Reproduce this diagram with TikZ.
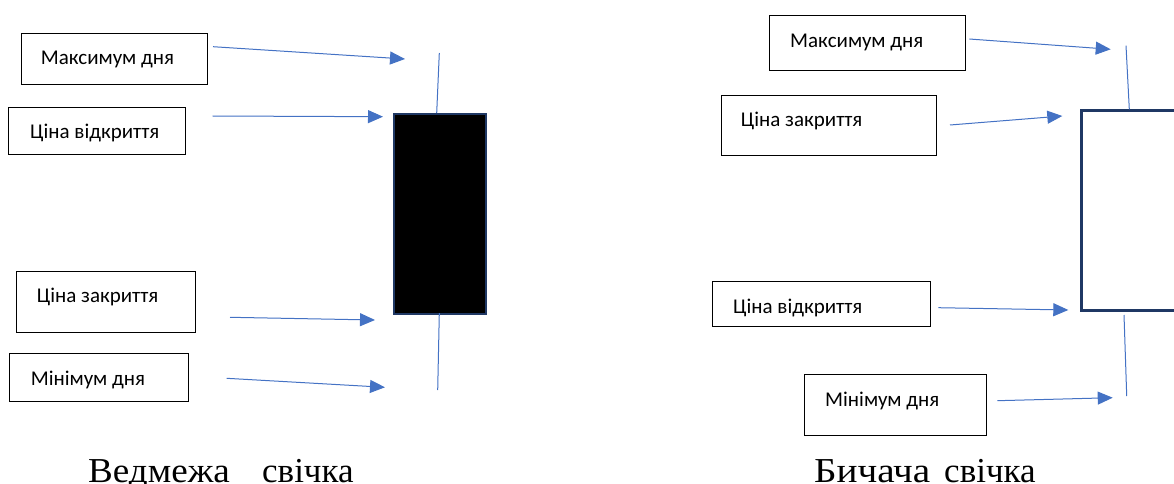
\documentclass[tikz,border=0pt]{standalone}
\usepackage{fontspec}
\setmainfont{Liberation Serif}
\newfontfamily\lblfont{Carlito}
\usetikzlibrary{arrows.meta}
\definecolor{arrowblue}{HTML}{4472C4}
\definecolor{bodynavy}{HTML}{1F3864}

\begin{document}
\begin{tikzpicture}[x=1pt,y=-1pt,
  labelbox/.style={draw=black, line width=1.1pt, inner sep=0pt, anchor=north west},
  labeltext/.style={anchor=base west, inner sep=0pt, font=\lblfont\fontsize{21}{25}\selectfont},
  pointer/.style={draw=arrowblue, line width=1pt, -{Triangle[length=15pt,width=13pt]}},
  wick/.style={draw=arrowblue, line width=1pt},
  captiontext/.style={anchor=base west, inner sep=0pt, font=\fontsize{35}{40}\selectfont}]
\useasboundingbox (0,0) rectangle (1174,484);

% ---------- bearish candle ----------
\node[anchor=north west, draw=bodynavy, fill=black, line width=1.6pt,
      minimum width=92pt, minimum height=200pt, inner sep=0pt] (bearbody) at (393,113) {};
\coordinate (bearhightop) at (439.3,53);
\coordinate (bearhighbot) at (436.7,113);
\coordinate (bearlowtop) at (439.3,313);
\coordinate (bearlowbot) at (437.7,390);
\draw[wick] (bearhightop) -- (bearhighbot);
\draw[wick] (bearlowtop) -- (bearlowbot);

\node[labelbox, minimum width=186pt, minimum height=51pt] (bearmaxbox) at (21,33) {};
\node[labeltext] (bearmax) at (40.7,64.3) {Максимум дня};
\node[labelbox, minimum width=177pt, minimum height=47pt] (bearopenbox) at (8,107) {};
\node[labeltext] (bearopen) at (30,138.5) {Ціна відкриття};
\node[labelbox, minimum width=179pt, minimum height=61pt] (bearclosebox) at (16,271) {};
\node[labeltext] (bearclose) at (36.7,302.7) {Ціна закриття};
\node[labelbox, minimum width=179pt, minimum height=48pt] (bearminbox) at (9,353) {};
\node[labeltext] (bearmin) at (30.7,385.7) {Мінімум дня};

\coordinate (ba1s) at (213,46.7);   \coordinate (ba1e) at (405,59);
\coordinate (ba2s) at (212.7,116);  \coordinate (ba2e) at (383,116.7);
\coordinate (ba3s) at (230,317.3);  \coordinate (ba3e) at (375,320);
\coordinate (ba4s) at (226.7,378.3);\coordinate (ba4e) at (385,387.3);
\draw[pointer] (ba1s) -- (ba1e);
\draw[pointer] (ba2s) -- (ba2e);
\draw[pointer] (ba3s) -- (ba3e);
\draw[pointer] (ba4s) -- (ba4e);

\node[captiontext] (bearcaption) at (88,482)
  {\makebox[174pt][l]{\scalebox{1.06}[1]{Ведмежа}}свічка};

% ---------- bullish candle ----------
\node[anchor=north west, draw=bodynavy, fill=white, line width=2.8pt,
      minimum width=98pt, minimum height=200pt, inner sep=0pt] (bullbody) at (1080,109.3) {};
\coordinate (bullhightop) at (1126,45.7);
\coordinate (bullhighbot) at (1129.3,109.3);
\coordinate (bulllowtop) at (1124,315);
\coordinate (bulllowbot) at (1126.7,396);
\draw[wick] (bullhightop) -- (bullhighbot);
\draw[wick] (bulllowtop) -- (bulllowbot);

\node[labelbox, minimum width=196pt, minimum height=55pt] (bullmaxbox) at (769,15) {};
\node[labeltext] (bullmax) at (790,47.3) {Максимум дня};
\node[labelbox, minimum width=215pt, minimum height=60pt] (bullclosebox) at (720.7,94.7) {};
\node[labeltext] (bullclose) at (740.7,126.7) {Ціна закриття};
\node[labelbox, minimum width=218pt, minimum height=45pt] (bullopenbox) at (712.3,281.3) {};
\node[labeltext] (bullopen) at (733,313.3) {Ціна відкриття};
\node[labelbox, minimum width=182pt, minimum height=61pt] (bullminbox) at (804,374.3) {};
\node[labeltext] (bullmin) at (825,406.7) {Мінімум дня};

\coordinate (ua1s) at (969.3,39);   \coordinate (ua1e) at (1110.7,49.3);
\coordinate (ua2s) at (950,125);    \coordinate (ua2e) at (1062.3,116);
\coordinate (ua3s) at (938.3,307.7);\coordinate (ua3e) at (1068.3,310);
\coordinate (ua4s) at (997.3,400.7);\coordinate (ua4e) at (1112.7,397.7);
\draw[pointer] (ua1s) -- (ua1e);
\draw[pointer] (ua2s) -- (ua2e);
\draw[pointer] (ua3s) -- (ua3e);
\draw[pointer] (ua4s) -- (ua4e);

\node[captiontext] (bullcaption) at (814,482)
  {\makebox[130pt][l]{\scalebox{1.12}[1]{Бичача}}свічка};
\end{tikzpicture}
\end{document}
